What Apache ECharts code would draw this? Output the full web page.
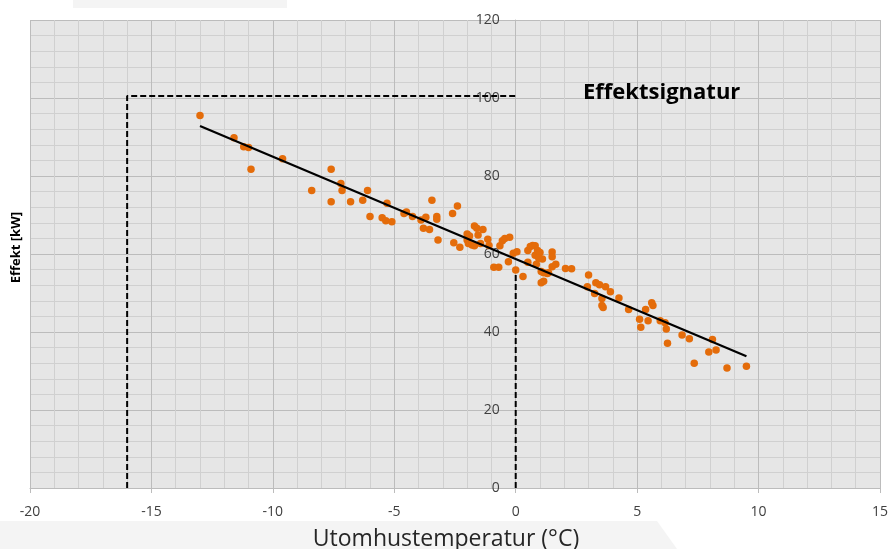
<!DOCTYPE html>
<html>
<head>
<meta charset="utf-8">
<script src="https://cdn.jsdelivr.net/npm/echarts@6/dist/echarts.min.js"></script>
<style>html,body{margin:0;padding:0;background:#fff}#c{width:890px;height:549px}</style>
</head>
<body>
<div id="c"></div>
<script>
// Measured points: outdoor temperature (°C) and power (kW)
const tempX = [-13.0,-11.6,-11.2,-11.0,-10.9,-9.6,-8.4,-7.6,-7.6,-7.2,-7.15,-6.8,-6.3,-6.1,-6.0,-5.5,-5.35,-5.3,-5.1,-4.6,-4.5,-4.25,-3.9,-3.7,-3.8,-3.55,-3.45,-3.25,-3.25,-3.2,-2.6,-2.4,-2.55,-2.3,-2.0,-1.9,-2.0,-1.95,-1.8,-1.7,-1.7,-1.6,-1.35,-1.55,-1.45,-1.15,-1.1,-0.9,-0.7,-0.65,-0.55,-0.45,-0.25,-0.3,-0.1,0.05,0.0,0.3,0.5,0.6,0.7,0.8,0.5,0.8,0.9,1.0,0.95,1.1,0.85,1.05,1.15,1.3,1.35,1.05,1.15,1.5,1.5,1.5,1.65,2.05,2.3,3.0,2.95,3.3,3.45,3.25,3.55,3.7,3.55,3.6,3.9,4.25,4.65,5.1,5.15,5.35,5.45,5.6,5.65,5.95,6.15,6.2,6.25,6.85,7.15,7.35,7.95,8.1,8.25,8.7,9.5];
const powerY = [95.5,89.8,87.5,87.3,81.7,84.4,76.3,81.7,73.4,78.1,76.3,73.4,73.8,76.3,69.6,69.3,68.5,73.0,68.3,70.4,70.8,69.6,68.7,69.4,66.6,66.3,73.8,69.6,68.9,63.6,70.4,72.3,62.9,61.7,65.1,64.6,63.6,62.7,62.3,62.1,67.2,66.6,66.3,64.9,62.7,63.8,62.2,56.6,56.6,62.1,63.4,64.0,64.3,58.0,60.2,60.6,55.9,54.2,60.9,61.9,62.2,62.1,57.9,59.7,60.9,60.4,58.9,58.7,57.4,55.5,55.2,55.0,55.2,52.6,53.0,60.5,59.3,56.7,57.4,56.3,56.2,54.6,51.6,52.6,52.1,49.9,48.6,51.6,46.8,46.3,50.3,48.7,45.8,43.3,41.2,45.8,42.9,47.5,46.8,42.9,42.4,40.8,37.1,39.2,38.3,32.0,34.9,38.1,35.4,30.8,31.2];
// Trend line end points
const trendX = [-13.0, 9.5];
const trendY = [92.8, 33.8];
// Dashed guide lines
const boxX = [-16, -16, 0];
const boxY = [0, 100.5, 100.5];
const zeroX = [0, 0];
const zeroY = [0, 56];

const pairs = (xs, ys) => xs.map((x, i) => [x, ys[i]]);

const chart = echarts.init(document.getElementById('c'), null, {renderer: 'canvas'});
const font = '"Open Sans", "Liberation Sans", sans-serif';
chart.setOption({
  animation: false,
  backgroundColor: '#ffffff',
  title: {
    text: 'Effektsignatur',
    left: 578, top: 77,
    textStyle: {fontFamily: font, fontWeight: 'bold', fontSize: 22, color: '#000'}
  },
  graphic: [
    {type: 'rect', shape: {x: 73, y: 0, width: 214, height: 8}, style: {fill: '#f4f4f4'}, silent: true, z: -10},
    {type: 'polygon', shape: {points: [[0, 521], [657, 521], [677, 549], [0, 549]]}, style: {fill: '#f4f4f4'}, silent: true, z: -10},
    {type: 'text', left: 10, top: 212, rotation: Math.PI / 2,
     style: {text: 'Effekt [kW]', font: 'bold 13px "Open Sans", sans-serif', fill: '#000'}}
  ],
  grid: {left: 30, right: 10, top: 20, bottom: 61, outerBoundsMode: 'none', containLabel: false,
         show: true, backgroundColor: '#e6e6e6', borderWidth: 0},
  xAxis: {
    type: 'value', min: -20, max: 15, interval: 5,
    name: 'Utomhustemperatur (°C)', nameLocation: 'middle', nameGap: 40,
    nameTextStyle: {fontFamily: font, fontSize: 23, color: '#262626', padding: [0, 18, 0, 0]},
    axisLine: {show: true, onZero: false, lineStyle: {color: '#bcbcbc', width: 1}},
    axisTick: {show: true, length: 5, lineStyle: {color: '#bcbcbc'}},
    axisLabel: {fontFamily: font, fontSize: 14, color: '#404040', margin: 17},
    splitLine: {show: true, lineStyle: {color: '#bcbcbc', width: 1}},
    minorTick: {show: false, splitNumber: 5},
    minorSplitLine: {show: true, lineStyle: {color: '#d0d0d0', width: 1}}
  },
  yAxis: {
    type: 'value', min: 0, max: 120, interval: 20,
    position: 'left', offset: -485.7,
    axisLine: {show: true, onZero: false, lineStyle: {color: '#bcbcbc', width: 1}},
    axisTick: {show: false},
    axisLabel: {fontFamily: font, fontSize: 14, color: '#404040', margin: 16},
    splitLine: {show: true, lineStyle: {color: '#bcbcbc', width: 1}},
    minorTick: {show: false, splitNumber: 5},
    minorSplitLine: {show: true, lineStyle: {color: '#d0d0d0', width: 1}}
  },
  series: [
    {type: 'line', data: pairs(boxX, boxY), symbol: 'none', z: 3,
     lineStyle: {color: '#000', width: 2, type: [6, 3]}},
    {type: 'line', data: pairs(zeroX, zeroY), symbol: 'none', z: 3,
     lineStyle: {color: '#000', width: 2, type: [6, 3]}},
    {type: 'scatter', data: pairs(tempX, powerY), symbol: 'circle', symbolSize: 7.5, z: 4,
     itemStyle: {color: '#E46C0A', opacity: 1}},
    {type: 'line', data: pairs(trendX, trendY), symbol: 'none', z: 5,
     lineStyle: {color: '#000', width: 2.2}}
  ]
});
</script>
</body>
</html>
